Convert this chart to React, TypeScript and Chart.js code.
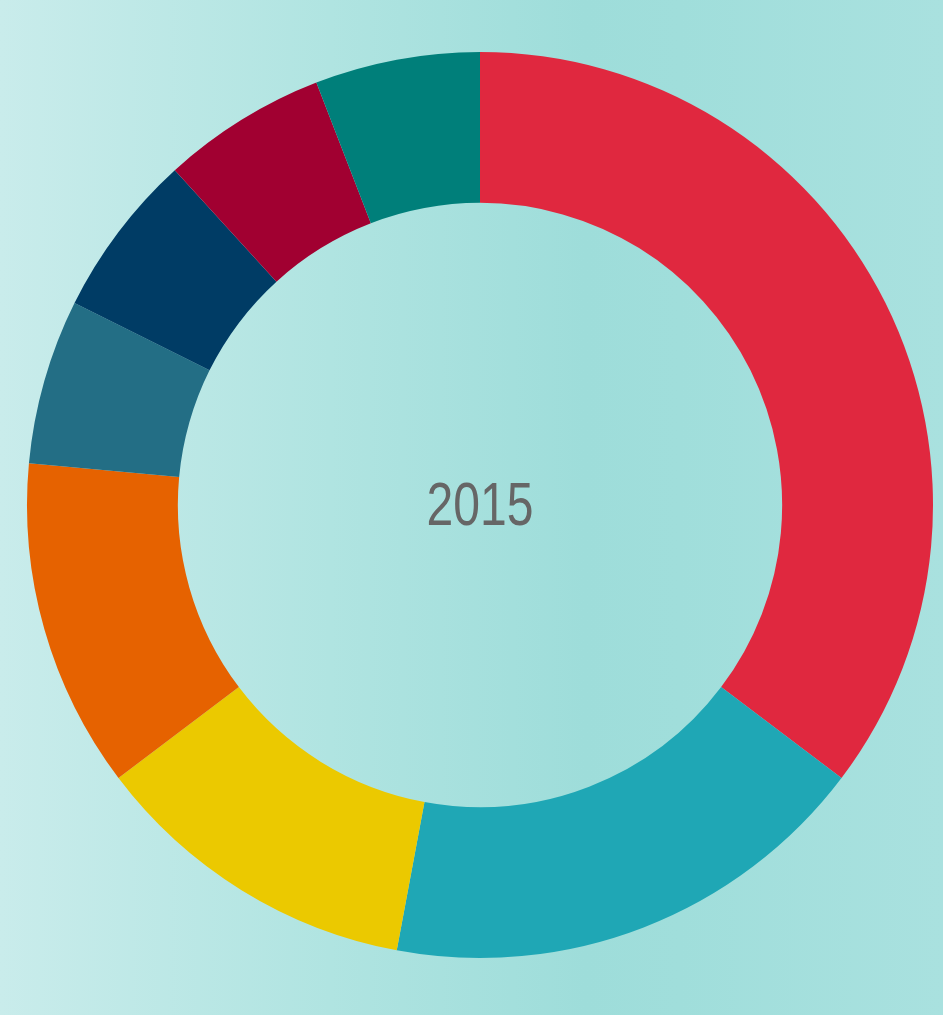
import React, { useEffect, useRef } from "react";
import { Chart, registerables } from "chart.js";

Chart.register(...registerables);

const categories = ["Segment A", "Segment B", "Segment C", "Segment D", "Segment E", "Segment F", "Segment G", "Segment H"];
const values = [6, 3, 2, 2, 1, 1, 1, 1];
const colors = ["#e0283f", "#1fa7b5", "#ebc900", "#e66200", "#236e85", "#003c65", "#a10031", "#007f7a"];
const centerLabel = "2015";

const centerTextPlugin = {
  id: "centerText",
  afterDatasetsDraw(chart: any) {
    const meta = chart.getDatasetMeta(0);
    const arc = meta.data[0];
    if (!arc) return;
    const { x, y } = arc.getProps(["x", "y"], true);
    const ctx = chart.ctx;
    ctx.save();
    ctx.fillStyle = "#666666";
    ctx.font = '62px "Liberation Sans", sans-serif';
    ctx.textAlign = "center";
    ctx.textBaseline = "middle";
    ctx.translate(x, y + 3);
    ctx.scale(0.775, 1);
    ctx.fillText(centerLabel, 0, 0);
    ctx.restore();
  },
};

export default function App() {
  const ref = useRef<HTMLCanvasElement | null>(null);
  useEffect(() => {
    if (!ref.current) return;
    const chart = new Chart(ref.current, {
      type: "doughnut",
      data: {
        labels: categories,
        datasets: [
          {
            data: values,
            backgroundColor: colors,
            borderWidth: 0,
          },
        ],
      },
      options: {
        responsive: false,
        animation: false,
        cutout: "66.7%",
        layout: { padding: { left: 27, right: 10, top: 52, bottom: 57 } },
        plugins: {
          legend: { display: false },
          tooltip: { enabled: false },
        },
      },
      plugins: [centerTextPlugin],
    });
    return () => chart.destroy();
  }, []);
  return (
    <div
      style={{
        position: "fixed",
        left: 0,
        top: 0,
        width: 943,
        height: 1015,
        background: "linear-gradient(to right, #c9eceb 0%, #b0e4e1 35%, #9eddda 62%, #a0dedb 72%, #a9e1df 100%)",
      }}
    >
      <canvas ref={ref} width={943} height={1015} style={{ display: "block" }} />
    </div>
  );
}
